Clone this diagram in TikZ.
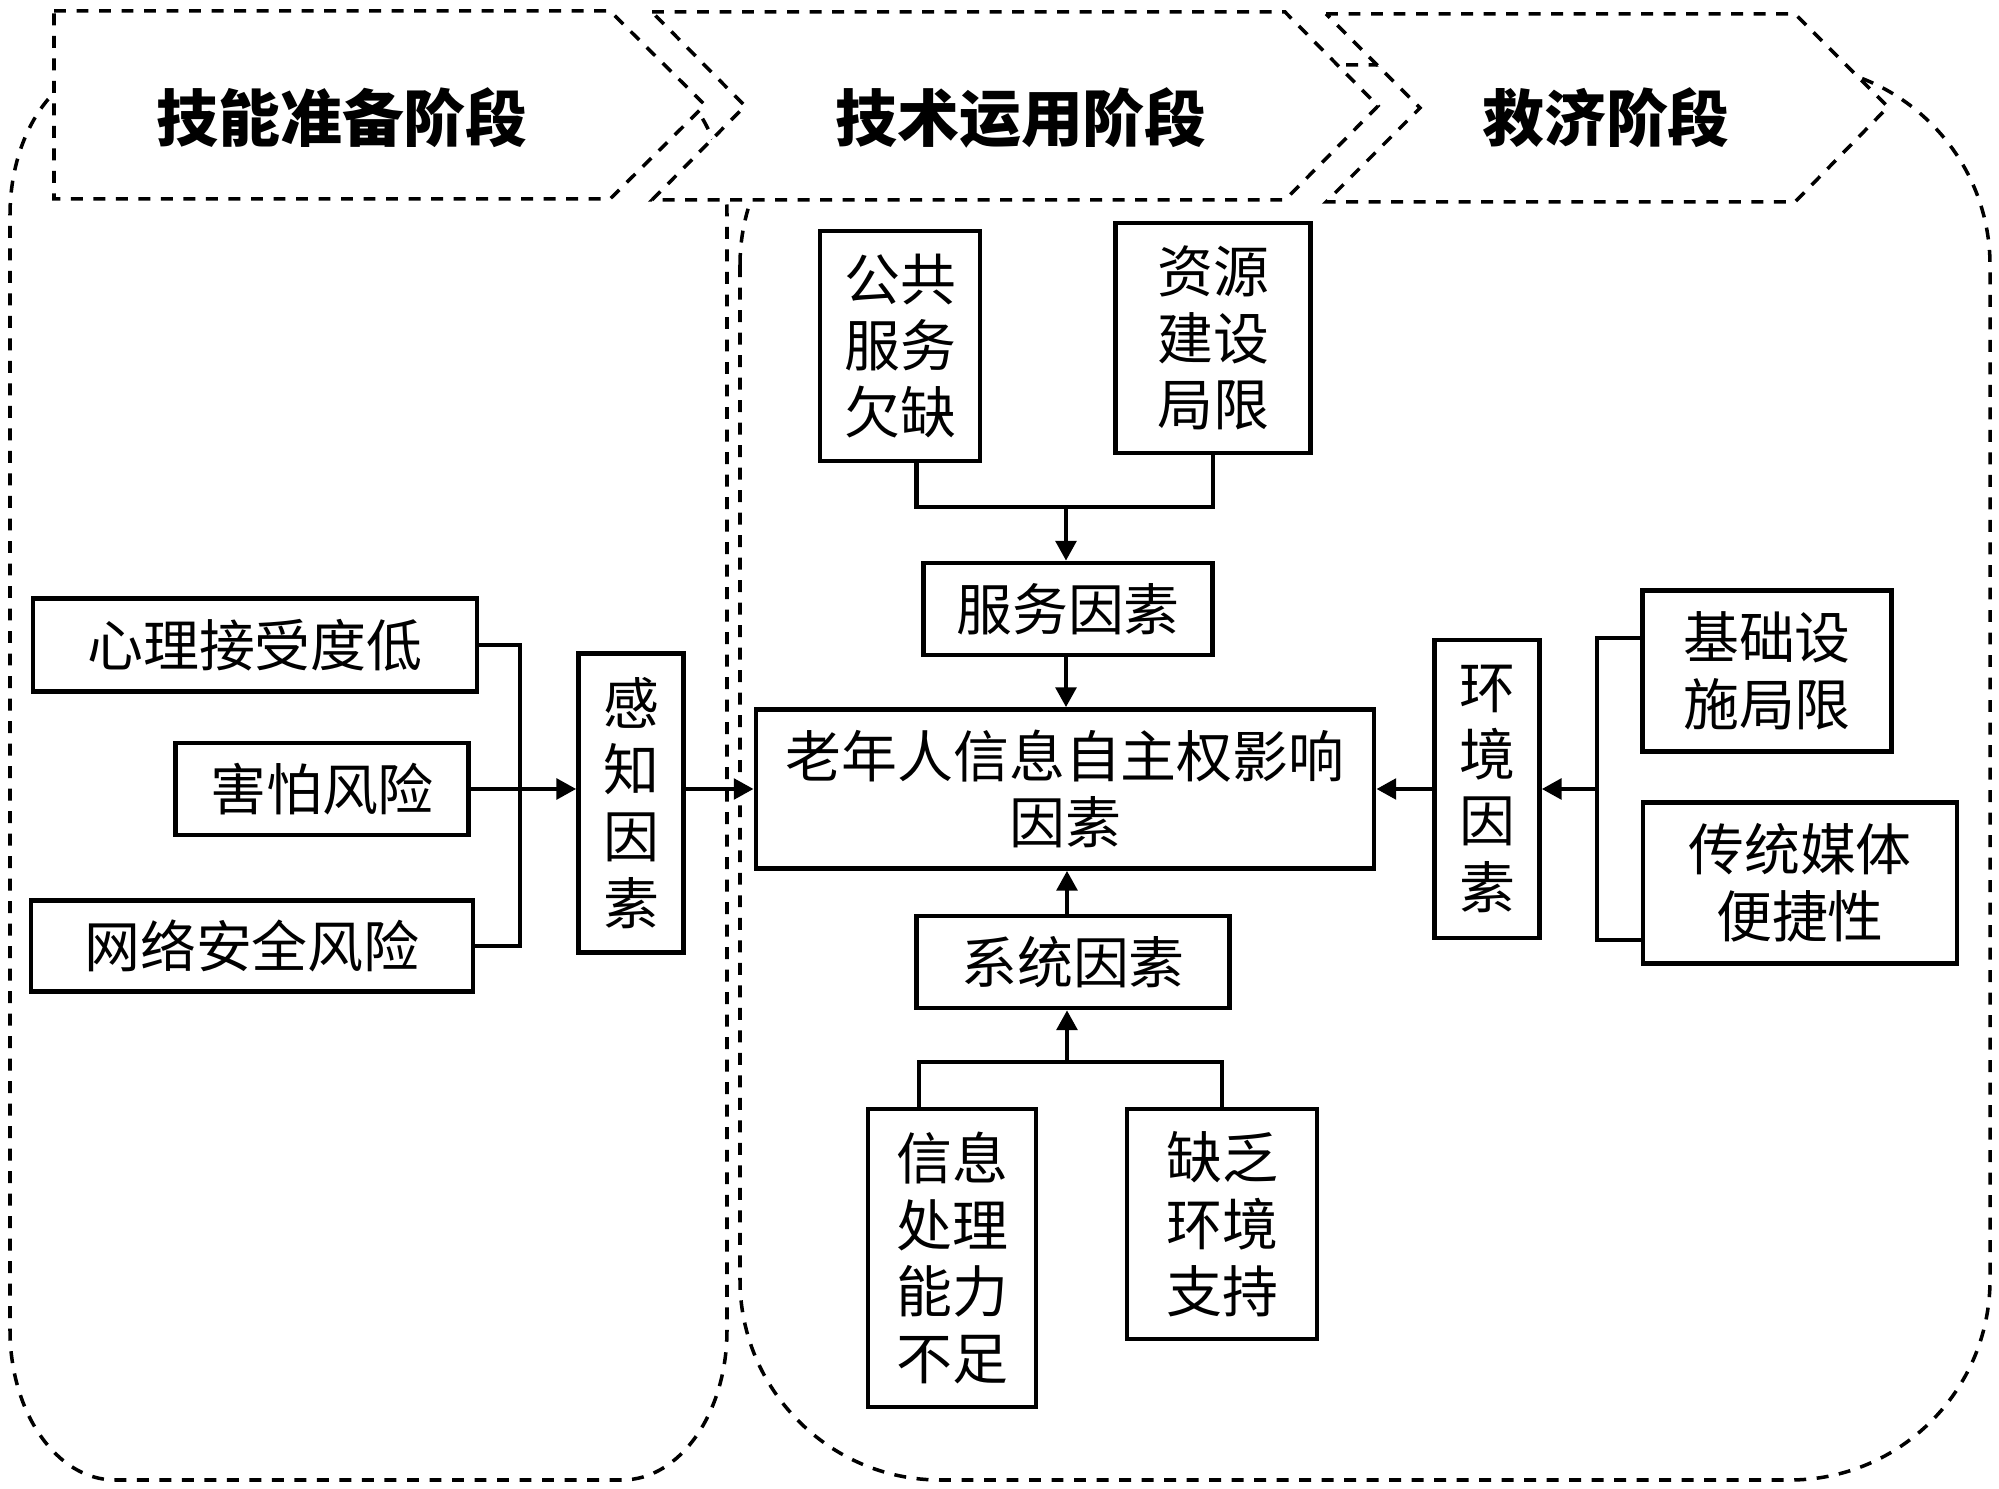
\documentclass[tikz,border=0pt]{standalone}
\usepackage{fontspec}
\setmainfont{Noto Sans CJK SC}
\usetikzlibrary{arrows.meta, calc}

\begin{document}
\begin{tikzpicture}[x=0.01cm, y=-0.01cm,
	box/.style={draw, line width=1.3pt, inner sep=0pt, align=center, font=\fontsize{15.9}{19}\selectfont},
	region/.style={line width=1pt, dash pattern=on 3.4pt off 3pt},
	stage/.style={region, fill=white},
	stagetitle/.style={font=\fontsize{17.6}{20}\selectfont\bfseries},
	link/.style={line width=1.2pt},
	>={Triangle[width=5.8pt, length=5.6pt]}
	]
	\useasboundingbox (0,0) rectangle (1999,1489);
	
	% two dashed areas
	\draw[region] (10,215) .. controls (10,132) and (57,65) .. (115,65) -- (622,65)
	.. controls (680,65) and (727,132) .. (727,215) -- (727,1330)
	.. controls (727,1413) and (680,1480) .. (622,1480) -- (115,1480)
	.. controls (57,1480) and (10,1413) .. (10,1330) -- cycle;
	\draw[region] (740,265) .. controls (740,155) and (830,65) .. (940,65) -- (1790,65)
	.. controls (1900,65) and (1990,155) .. (1990,265) -- (1990,1280)
	.. controls (1990,1390) and (1900,1480) .. (1790,1480) -- (940,1480)
	.. controls (830,1480) and (740,1390) .. (740,1280) -- cycle;
	
	% stages
	\draw[stage] (54,11) -- (610,11) -- (705,105) -- (610,199) -- (54,199) -- cycle;
	\draw[stage] (652,12) -- (1285,12) -- (1378,106) -- (1285,200) -- (652,200) -- (745,106) -- cycle;
	\draw[stage] (1326,14) -- (1795,14) -- (1888,107) -- (1795,202) -- (1326,202) -- (1420,108) -- cycle;
	\node[stagetitle] (s1) at (342,118) {技能准备阶段};
	\node[stagetitle] (s2) at (1021,118) {技术运用阶段};
	\node[stagetitle] (s3) at (1606,118) {救济阶段};
	
	% left
	\node[box, minimum width=4.44cm, minimum height=0.93cm] (xinli) at (255,645) {心理接受度低};
	\node[box, minimum width=2.93cm, minimum height=0.92cm] (haipa) at (322,789) {害怕风险};
	\node[box, minimum width=4.42cm, minimum height=0.91cm] (wangluo) at (252,946) {网络安全风险};
	\node[box, minimum width=1.05cm, minimum height=2.99cm] (ganzhi) at (631,803) {感\\知\\因\\素};
	
	% middle
	\node[box, minimum width=6.18cm, minimum height=1.59cm] (main) at (1065,789) {老年人信息自主权影响\\因素};
	\node[box, minimum width=1.60cm, minimum height=2.30cm] (gonggong) at (900,346) {公共\\服务\\欠缺};
	\node[box, minimum width=1.95cm, minimum height=2.30cm] (ziyuan) at (1213,338) {资源\\建设\\局限};
	\node[box, minimum width=2.89cm, minimum height=0.92cm] (fuwu) at (1068,609) {服务因素};
	\node[box, minimum width=3.13cm, minimum height=0.92cm] (xitong) at (1073,962) {系统因素};
	\node[box, minimum width=1.68cm, minimum height=2.98cm] (xinxi) at (952,1258) {信息\\处理\\能力\\不足};
	\node[box, minimum width=1.90cm, minimum height=2.30cm] (quefa) at (1222,1224) {缺乏\\环境\\支持};
	
	% right
	\node[box, minimum width=1.05cm, minimum height=2.98cm] (huanjing) at (1487,789) {环\\境\\因\\素};
	\node[box, minimum width=2.49cm, minimum height=1.61cm] (jichu) at (1767,671) {基础设\\施局限};
	\node[box, minimum width=3.14cm, minimum height=1.61cm] (chuantong) at (1800,883) {传统媒体\\便捷性};
	
	\coordinate (kl) at (520,789);
	\draw[link] (xinli.east) -| (kl) |- (wangluo.east);
	\draw[link, ->] (haipa.east) -- (haipa.east -| ganzhi.west);
	\draw[link, ->] (ganzhi.east |- main.west) -- (main.west);
	
	\coordinate (kr) at (1597,789);
	\draw[link] (jichu.west |- huanjing.north) -| (kr) |- (chuantong.west |- huanjing.south);
	\draw[link, ->] (kr) -- (huanjing.east);
	\draw[link, ->] (huanjing.west |- main.east) -- (main.east);
	
	\coordinate (kt) at (1066,507);
	\coordinate (gg) at ($(gonggong.south west)!0.6!(gonggong.south east)$);
	\draw[link] (gg) -- (gg |- kt) -| (ziyuan.south);
	\draw[link, ->] (kt) -- (kt |- fuwu.north);
	\draw[link, ->] (kt |- fuwu.south) -- (kt |- main.north);
	
	\coordinate (kb) at (1067,1062);
	\coordinate (xx) at ($(xinxi.north west)!0.31!(xinxi.north east)$);
	\draw[link] (xx) -- (xx |- kb) -| (quefa.north);
	\draw[link, ->] (kb) -- (kb |- xitong.south);
	\draw[link, ->] (kb |- xitong.north) -- (kb |- main.south);
\end{tikzpicture}
\end{document}
